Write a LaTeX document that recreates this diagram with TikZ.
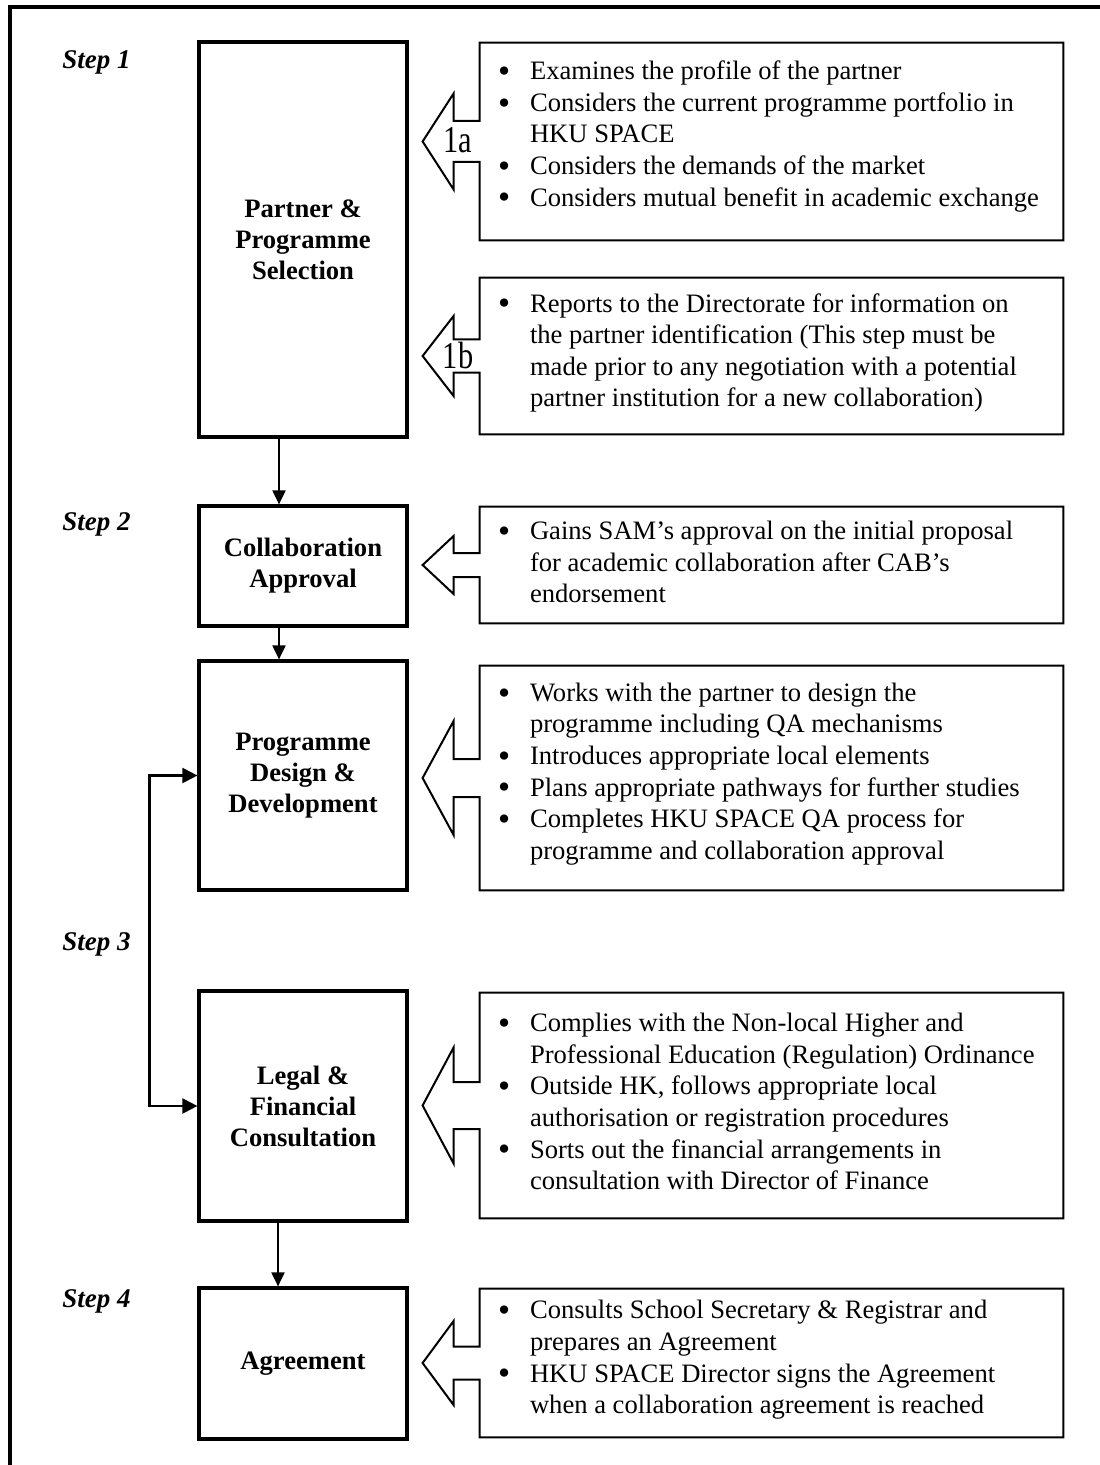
\documentclass[tikz,border=0pt]{standalone}
\usepackage{fontspec}
\usepackage{graphicx}
\setmainfont{Liberation Serif}
\usetikzlibrary{arrows.meta,calc}
\newcommand\itm{\makebox[16pt][l]{\smash{\raisebox{-0.1em}{\scalebox{1.3}{\textbullet}}}}}
\newcommand\ind{\hspace*{16pt}}
\newcommand\callout[3]{%
  \draw[callout] (#1.north west) -- (#1.north east) -- (#1.south east) -- (#1.south west)
    -- ($(#1.west)+(0,#2)$) -- ($(#1.west)+(-26,#2)$) -- ($(#1.west)+(-26,#3)$)
    -- ($(#1.west)+(-57,0)$) -- ($(#1.west)+(-26,-#3)$) -- ($(#1.west)+(-26,-#2)$)
    -- ($(#1.west)+(0,-#2)$) -- cycle;}
\begin{document}
\begin{tikzpicture}[x=0.5pt,y=-0.5pt,
  mainbox/.style={draw, line width=1.6pt, minimum width=104pt, inner sep=0pt, align=center,
    font=\fontsize{13.3}{15.5}\selectfont\bfseries},
  rbox/.style={minimum width=291.5pt, inner sep=0pt},
  callout/.style={draw, line width=1pt, line join=miter},
  listtext/.style={anchor=west, inner sep=0pt, align=left, font=\fontsize{13.3}{15.8}\selectfont},
  steplabel/.style={anchor=base west, inner sep=0pt, font=\fontsize{13.5}{16}\selectfont\bfseries\itshape},
  conn/.style={line width=1pt, -{Triangle[length=7pt,width=6.5pt]}},
  numlabel/.style={inner sep=0pt, font=\fontsize{19}{19}\selectfont}
]
\useasboundingbox (0,0) rectangle (1099,1465);
\fill[white] (0,0) rectangle (1099,1465);
\draw[line width=2.3pt] (10,1475) -- (10,7) -- (1110,7);

% step labels
\node[steplabel] (s1) at (62,69) {Step 1};
\node[steplabel] (s2) at (62,530) {Step 2};
\node[steplabel] (s3) at (62,950) {Step 3};
\node[steplabel] (s4) at (62,1307) {Step 4};

% main boxes
\node[mainbox, minimum height=197.5pt] (b1) at (303,239.5) {Partner \&\\Programme\\Selection};
\node[mainbox, minimum height=60pt] (b2) at (303,566) {Collaboration\\Approval};
\node[mainbox, minimum height=114.5pt] (b3) at (303,775.5) {Programme\\Design \&\\Development};
\node[mainbox, minimum height=115pt] (b4) at (303,1106) {Legal \&\\Financial\\Consultation};
\node[mainbox, minimum height=75.5pt] (b5) at (303,1363.5) {Agreement};

% connectors
\draw[conn] ($(b1.south)+(-24,0)$) -- ($(b2.north)+(-24,0)$);
\draw[conn] ($(b2.south)+(-24,0)$) -- ($(b3.north)+(-24,0)$);
\draw[conn] ($(b4.south)+(-25,0)$) -- ($(b5.north)+(-25,0)$);
\draw[line width=1.1pt, {Triangle[length=7.5pt,width=7.5pt]}-{Triangle[length=7.5pt,width=7.5pt]}]
  (b3.west) -- ++(-48,0) |- (b4.west);

% right boxes with callout arrows
\node[rbox, minimum height=98.5pt] (r1a) at (771.5,141.5) {};
\callout{r1a}{20.5}{48}
\node[listtext] (t1a) at ($(r1a.west)+(18,-5)$) {\itm Examines the profile of the partner\\
\itm Considers the current programme portfolio in\\
\ind HKU SPACE\\
\itm Considers the demands of the market\\
\itm Considers mutual benefit in academic exchange};
\node[numlabel] (n1a) at (458,140) {\scalebox{0.8}[1]{1a}};

\node[rbox, minimum height=78pt] (r1b) at (771.5,356) {};
\callout{r1b}{16.5}{40}
\node[listtext] (t1b) at ($(r1b.west)+(18,-3)$) {\itm Reports to the Directorate for information on\\
\ind the partner identification (This step must be\\
\ind made prior to any negotiation with a potential\\
\ind partner institution for a new collaboration)};
\node[numlabel] (n1b) at (458,356) {\scalebox{0.8}[1]{1b}};

\node[rbox, minimum height=58pt] (r2) at (771.5,565) {};
\callout{r2}{12}{29}
\node[listtext] (t2) at ($(r2.west)+(18,-3)$) {\itm Gains SAM’s approval on the initial proposal\\
\ind for academic collaboration after CAB’s\\
\ind endorsement};

\node[rbox, minimum height=112pt] (r3) at (771.5,778) {};
\callout{r3}{19}{57}
\node[listtext] (t3) at ($(r3.west)+(18,-4)$) {\itm Works with the partner to design the\\
\ind programme including QA mechanisms\\
\itm Introduces appropriate local elements\\
\itm Plans appropriate pathways for further studies\\
\itm Completes HKU SPACE QA process for\\
\ind programme and collaboration approval};

\node[rbox, minimum height=112.5pt] (r4) at (771.5,1105.5) {};
\callout{r4}{23.5}{58}
\node[listtext] (t4) at ($(r4.west)+(18,-4)$) {\itm Complies with the Non-local Higher and\\
\ind Professional Education (Regulation) Ordinance\\
\itm Outside HK, follows appropriate local\\
\ind authorisation or registration procedures\\
\itm Sorts out the financial arrangements in\\
\ind consultation with Director of Finance};

\node[rbox, minimum height=74pt] (r5) at (771.5,1363) {};
\callout{r5}{16.5}{42}
\node[listtext] (t5) at ($(r5.west)+(18,-3)$) {\itm Consults School Secretary \& Registrar and\\
\ind prepares an Agreement\\
\itm HKU SPACE Director signs the Agreement\\
\ind when a collaboration agreement is reached};
\end{tikzpicture}
\end{document}
